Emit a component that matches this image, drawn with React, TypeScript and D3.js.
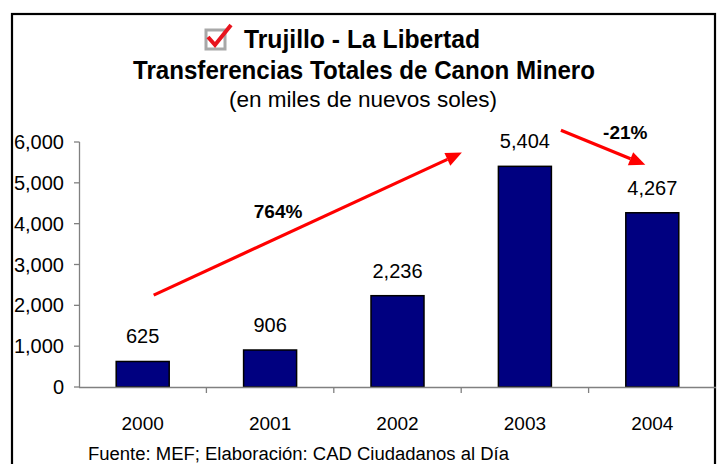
import React from "react";
import * as d3 from "d3";

const years = ["2000", "2001", "2002", "2003", "2004"];
const values = [625, 906, 2236, 5404, 4267];
const yTicks = [0, 1000, 2000, 3000, 4000, 5000, 6000];
const titleLines = ["Trujillo - La Libertad", "Transferencias Totales de Canon Minero", "(en miles de nuevos soles)"];
const footer = "Fuente: MEF; Elaboración: CAD Ciudadanos al Día";
// arrows: anchored to categories (dx in px from band centre) and values
const arrows = [
  { fromCat: "2000", fromDx: 11, fromVal: 2250, toCat: "2003", toDx: -63, toVal: 5740, label: "764%", labCat: "2001", labDx: 8, labVal: 4310 },
  { fromCat: "2003", fromDx: 36, fromVal: 6290, toCat: "2004", toDx: -7, toVal: 5440, label: "-21%", labCat: "2004", labDx: -27, labVal: 6240 },
];

const W = 721;
const H = 464;
const FONT = "'Liberation Sans', Arial, sans-serif";

export default function App() {
  const x = d3.scaleBand<string>().domain(years).range([79, 716]).paddingInner(0.584).paddingOuter(0.292);
  const y = d3.scaleLinear().domain([0, 6000]).range([387, 142]);
  const fmt = d3.format(",");
  const step = x.step();
  const cx = (c: string) => (x(c) as number) + x.bandwidth() / 2;
  const bandStart = (i: number) => 79 + i * step;

  const arrowShapes = arrows.map((a) => {
    const x1 = cx(a.fromCat) + a.fromDx, y1 = y(a.fromVal);
    const x2 = cx(a.toCat) + a.toDx, y2 = y(a.toVal);
    const dx = x2 - x1, dy = y2 - y1;
    const len = Math.hypot(dx, dy);
    const ux = dx / len, uy = dy / len;
    const L = 16, hw = 7;
    const bx = x2 - ux * L, by = y2 - uy * L;
    const nx = -uy, ny = ux;
    const head = `M${x2},${y2}L${bx + nx * hw},${by + ny * hw}L${bx - nx * hw},${by - ny * hw}Z`;
    return { x1, y1, bx, by, head, lx: cx(a.labCat) + a.labDx, ly: y(a.labVal), label: a.label };
  });

  return (
    <svg width={W} height={H} style={{ position: "absolute", left: 0, top: 0, background: "#fff" }} fontFamily={FONT}>
      <rect x={0} y={0} width={W} height={H} fill="#fff" />
      {/* frame */}
      <rect x={12} y={14} width={703} height={480} fill="none" stroke="#000" strokeWidth={2.2} />

      {/* checkbox icon */}
      <rect x={206} y={30} width={19} height={19} fill="#fff" stroke="#a8a8a8" strokeWidth={3} />
      <path d="M208,37 L215,45 L231,25" fill="none" stroke="#e8141e" strokeWidth={4} strokeLinejoin="miter" />

      {/* titles */}
      <text x={362} y={48} textAnchor="middle" fontSize={25} fontWeight="bold" textLength={236} lengthAdjust="spacingAndGlyphs">{titleLines[0]}</text>
      <text x={364} y={79} textAnchor="middle" fontSize={25} fontWeight="bold" textLength={462} lengthAdjust="spacingAndGlyphs">{titleLines[1]}</text>
      <text x={363} y={107} textAnchor="middle" fontSize={22} textLength={268} lengthAdjust="spacingAndGlyphs">{titleLines[2]}</text>

      {/* y axis */}
      <line x1={79.5} x2={79.5} y1={y(6000)} y2={y(0)} stroke="#808080" strokeWidth={1.3} />
      {yTicks.map((t) => (
        <g key={t}>
          <line x1={74} x2={79.5} y1={y(t)} y2={y(t)} stroke="#808080" strokeWidth={1.3} />
          <text x={64} y={y(t) + 7} textAnchor="end" fontSize={20}>{fmt(t)}</text>
        </g>
      ))}

      {/* bars */}
      {years.map((yr, i) => (
        <g key={yr}>
          <rect x={x(yr)} y={y(values[i])} width={x.bandwidth()} height={y(0) - y(values[i])} fill="#000080" stroke="#000" strokeWidth={1.5} />
          <text x={cx(yr)} y={y(values[i]) - 18} textAnchor="middle" fontSize={20}>{fmt(values[i])}</text>
          <text x={cx(yr)} y={430} textAnchor="middle" fontSize={19}>{yr}</text>
        </g>
      ))}

      {/* x axis */}
      <line x1={79} x2={716} y1={387.5} y2={387.5} stroke="#808080" strokeWidth={1.3} />
      {years.slice(1).map((_, i) => (
        <line key={i} x1={bandStart(i + 1)} x2={bandStart(i + 1)} y1={387.5} y2={393} stroke="#808080" strokeWidth={1.3} />
      ))}

      {/* arrows */}
      {arrowShapes.map((a, i) => (
        <g key={i}>
          <line x1={a.x1} y1={a.y1} x2={a.bx} y2={a.by} stroke="#ff0000" strokeWidth={3.2} />
          <path d={a.head} fill="#ff0000" />
          <text x={a.lx} y={a.ly + 7} textAnchor="middle" fontSize={19} fontWeight="bold">{a.label}</text>
        </g>
      ))}

      {/* footer */}
      <text x={88} y={460} fontSize={18} textLength={421} lengthAdjust="spacingAndGlyphs">{footer}</text>
    </svg>
  );
}
